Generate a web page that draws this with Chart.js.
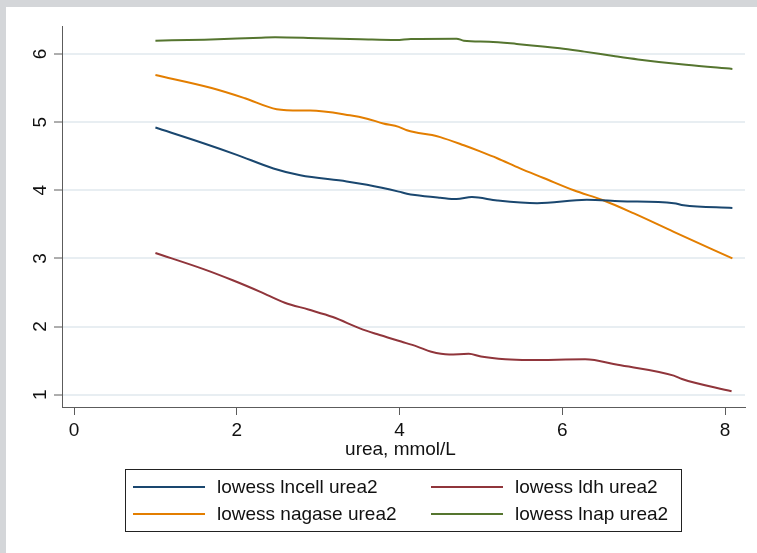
<!DOCTYPE html>
<html>
<head>
<meta charset="utf-8">
<script src="https://cdn.jsdelivr.net/npm/chart.js@4/dist/chart.umd.min.js"></script>
<style>
  html, body { margin: 0; padding: 0; background: #fff; }
  #wrap { position: relative; width: 757px; height: 553px; }
  canvas { display: block; }
</style>
</head>
<body>
<div id="wrap"><canvas id="c" width="757" height="553"></canvas></div>
<script>
// Lowess smooths of each marker against urea (mmol/L)
const lncellX = [1.0, 1.59, 2.0, 2.45, 2.78, 3.35, 3.60, 3.99, 4.09, 4.19, 4.50, 4.70, 4.89, 5.20, 5.69, 6.30, 6.71, 7.37, 7.49, 8.09];
const lncellY = [4.92, 4.69, 4.52, 4.32, 4.22, 4.13, 4.08, 3.98, 3.95, 3.93, 3.89, 3.87, 3.90, 3.85, 3.81, 3.86, 3.84, 3.81, 3.78, 3.74];

const ldhX = [1.0, 1.60, 1.95, 2.29, 2.59, 2.88, 3.18, 3.52, 3.72, 4.02, 4.21, 4.39, 4.61, 4.85, 5.00, 5.30, 5.59, 6.28, 6.68, 7.37, 7.47, 8.08];
const ldhY = [3.08, 2.84, 2.68, 2.51, 2.35, 2.25, 2.14, 1.97, 1.89, 1.78, 1.71, 1.63, 1.59, 1.60, 1.56, 1.52, 1.51, 1.52, 1.44, 1.28, 1.23, 1.05];

const nagaseX = [1.0, 1.69, 2.1, 2.49, 2.78, 2.90, 3.39, 3.60, 3.80, 3.99, 4.09, 4.19, 4.40, 4.50, 4.79, 4.99, 5.20, 5.48, 5.77, 6.14, 6.51, 6.88, 7.37, 8.09];
const nagaseY = [5.69, 5.50, 5.35, 5.19, 5.17, 5.17, 5.10, 5.05, 4.98, 4.93, 4.88, 4.85, 4.81, 4.78, 4.66, 4.57, 4.47, 4.32, 4.18, 4.00, 3.85, 3.66, 3.39, 3.00];

const lnapX = [1.0, 1.6, 2.3, 2.47, 3.0, 3.52, 3.96, 4.14, 4.70, 4.79, 5.1, 5.44, 5.97, 6.27, 6.63, 6.93, 7.52, 8.09];
const lnapY = [6.195, 6.21, 6.239, 6.245, 6.23, 6.216, 6.205, 6.22, 6.224, 6.195, 6.18, 6.147, 6.084, 6.034, 5.97, 5.92, 5.84, 5.78];

const seriesLabels = ["lowess lncell urea2", "lowess ldh urea2", "lowess nagase urea2", "lowess lnap urea2"];
const seriesColors = ["#1a476f", "#90353b", "#e37e00", "#55752f"];

const xTicks = [0, 2, 4, 6, 8];
const yTicks = [1, 2, 3, 4, 5, 6];
const xTitle = "urea, mmol/L";

const FONT = '19px "Liberation Sans", Arial, sans-serif';
const AXIS = "#5c5c5c";
const TEXT = "#111";

function pts(xs, ys) { return xs.map((x, i) => ({ x: x, y: ys[i] })); }

const datasets = [
  pts(lncellX, lncellY), pts(ldhX, ldhY), pts(nagaseX, nagaseY), pts(lnapX, lnapY)
].map((d, i) => ({
  label: seriesLabels[i],
  data: d,
  borderColor: seriesColors[i],
  backgroundColor: seriesColors[i],
  borderWidth: 2,
  pointRadius: 0,
  cubicInterpolationMode: "monotone",
  fill: false
}));

// Grey frame behind the white graph region
const frame = {
  id: "frame",
  beforeDraw(chart) {
    const c = chart.ctx;
    c.save();
    c.fillStyle = "#d4d6d9";
    c.fillRect(0, 0, chart.width, chart.height);
    c.fillStyle = "#ffffff";
    c.fillRect(6, 7, chart.width - 6, chart.height - 7);
    c.restore();
  }
};

// Tick labels (y rotated), axis title and the boxed two-column legend
const texts = {
  id: "texts",
  afterDraw(chart) {
    const c = chart.ctx;
    const xs = chart.scales.x, ys = chart.scales.y, a = chart.chartArea;
    c.save();
    c.font = FONT;
    c.fillStyle = TEXT;
    c.textAlign = "center";
    c.textBaseline = "middle";
    xTicks.forEach(v => c.fillText(String(v), xs.getPixelForValue(v), 431));
    c.fillText(xTitle, (a.left + a.right) / 2 - 3, 450);
    yTicks.forEach(v => {
      c.save();
      c.translate(39.5, ys.getPixelForValue(v));
      c.rotate(-Math.PI / 2);
      c.fillText(String(v), 0, 1);
      c.restore();
    });

    // legend
    const bx = 125.5, by = 469.5, bw = 556, bh = 62;
    c.strokeStyle = "#222";
    c.lineWidth = 1;
    c.strokeRect(bx, by, bw, bh);
    const cols = [133, 431], rows = [487, 514];
    const order = [[0, 0, 0], [1, 1, 0], [2, 0, 1], [3, 1, 1]];
    c.textAlign = "left";
    order.forEach(([i, col, row]) => {
      const ds = chart.data.datasets[i];
      const x0 = cols[col], y0 = rows[row];
      c.strokeStyle = ds.borderColor;
      c.lineWidth = 2;
      c.beginPath();
      c.moveTo(x0, y0);
      c.lineTo(x0 + 72, y0);
      c.stroke();
      c.fillStyle = TEXT;
      c.fillText(ds.label, x0 + 84, y0 + 1);
    });
    c.restore();
  }
};

new Chart(document.getElementById("c"), {
  type: "line",
  data: { datasets: datasets },
  plugins: [frame, texts],
  options: {
    responsive: false,
    animation: false,
    devicePixelRatio: 1,
    parsing: true,
    layout: { padding: { left: 54, top: 26, right: 12, bottom: 138 } },
    plugins: { legend: { display: false }, tooltip: { enabled: false } },
    scales: {
      x: {
        type: "linear",
        min: -0.148,
        max: 8.245,
        afterBuildTicks: s => { s.ticks = xTicks.map(v => ({ value: v })); },
        ticks: { display: false },
        grid: { drawOnChartArea: false, drawTicks: true, tickLength: 8, tickColor: AXIS, tickWidth: 1 },
        border: { display: true, color: AXIS, width: 1 }
      },
      y: {
        type: "linear",
        min: 0.82,
        max: 6.41,
        afterBuildTicks: s => { s.ticks = yTicks.map(v => ({ value: v })); },
        ticks: { display: false },
        grid: { drawOnChartArea: true, color: "#e8eef2", lineWidth: 2, drawTicks: true, tickLength: 8, tickColor: AXIS, tickWidth: 1 },
        border: { display: true, color: AXIS, width: 1 }
      }
    }
  }
});
</script>
</body>
</html>
